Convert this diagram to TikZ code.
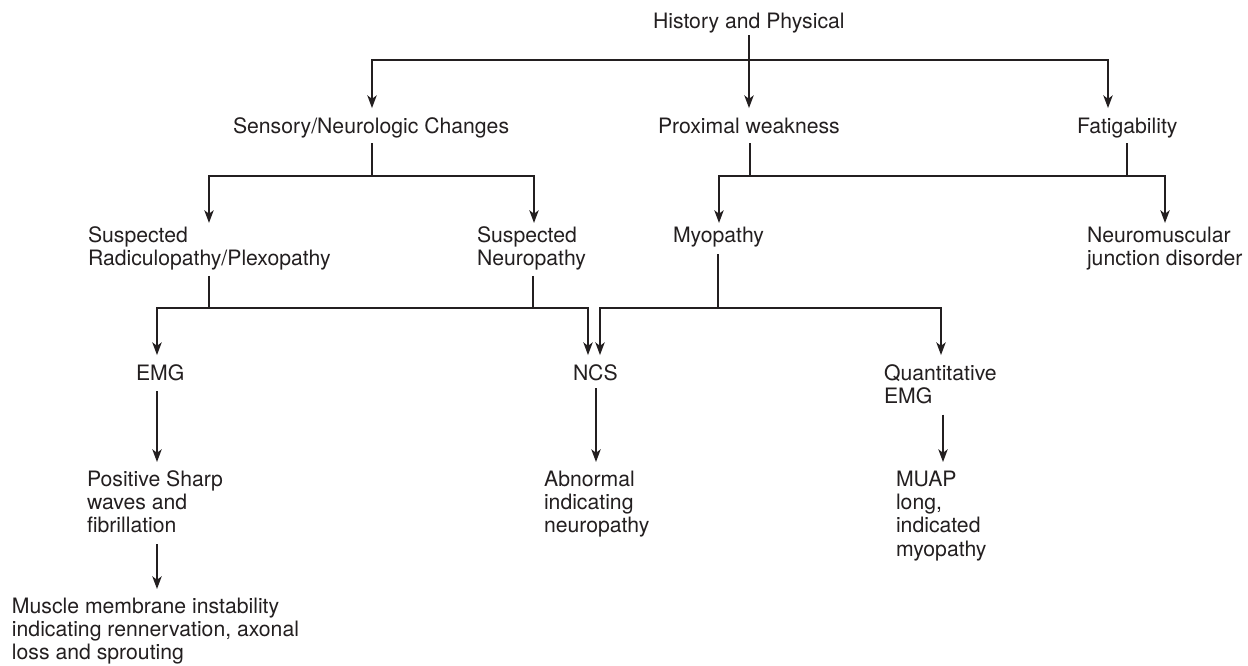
\documentclass[tikz,border=0pt]{standalone}
\usepackage{fontspec}
\setmainfont{TeX Gyre Heros}
\usetikzlibrary{arrows.meta}
\definecolor{ink}{HTML}{231F20}
\begin{document}
\begin{tikzpicture}[x=0.75pt,y=-0.75pt,
  lbl/.style={anchor=north west, inner sep=0pt, outer sep=0pt, align=left,
    text=ink, font=\fontsize{15.9}{17.6}\selectfont},
  ln/.style={draw=ink, line width=1.4pt},
  arr/.style={ln, -{Stealth[length=9.5pt,width=7pt,inset=2.6pt]}, shorten >=#1},
  arr/.default=6.4pt,
  stem/.style={ln, shorten <=#1},
  stem/.default=2.5pt]

\fill[white] (0,0) rectangle (1248,665);
\useasboundingbox (0,0) rectangle (1248,665);

% labels (north west corner = first baseline minus strut height)
\node[lbl] (hp)    at (653,11.6)   {\strut History and Physical};
\node[lbl] (sens)  at (233,116.6)  {\strut Sensory/Neurologic Changes};
\node[lbl] (prox)  at (658,116.6)  {\strut Proximal weakness};
\node[lbl] (fat)   at (1077,116.6) {\strut Fatigability};
\node[lbl] (radic) at (88,225.6)   {\strut Suspected\\Radiculopathy/Plexopathy\strut};
\node[lbl] (neur)  at (477,225.6)  {\strut Suspected\\Neuropathy\strut};
\node[lbl] (myo)   at (673,225.6)  {\strut Myopathy};
\node[lbl] (nmj)   at (1087,225.6) {\strut Neuromuscular\\junction disorder\strut};
\node[lbl] (emg)   at (136,363.6)  {\strut EMG};
\node[lbl] (ncs)   at (573,363.6)  {\strut NCS};
\node[lbl] (qemg)  at (884,363.6)  {\strut Quantitative\\EMG\strut};
\node[lbl] (pos)   at (87,469.6)   {\strut Positive Sharp\\waves and\\fibrillation\strut};
\node[lbl] (abn)   at (544,469.6)  {\strut Abnormal\\indicating\\neuropathy\strut};
\node[lbl] (muap)  at (896,469.6)  {\strut MUAP\\long,\\indicated\\myopathy\strut};
\node[lbl] (mus)   at (12,596.6)   {\strut Muscle membrane instability\\indicating rennervation, axonal\\loss and sprouting\strut};

% history and physical -> three presentations
\coordinate (jTop) at (749,60);
\draw[stem=0pt] (hp.south -| jTop) -- (jTop);
\draw[arr] (jTop) -| (sens.north -| 372,0);
\draw[arr] (jTop) -- (jTop |- prox.north);
\draw[arr] (jTop) -| (fat.north -| 1108,0);

% sensory/neurologic changes
\coordinate (jSens) at (372,176);
\draw[stem] (sens.south -| jSens) -- (jSens);
\draw[arr=2pt] (jSens) -| (radic.north -| 209,0);
\draw[arr=2pt] (jSens) -| (neur.north -| 534,0);

% proximal weakness and fatigability
\coordinate (jProx) at (750,176);
\coordinate (jFat) at (1127,176);
\draw[stem] (prox.south -| jProx) -- (jProx);
\draw[stem] (fat.south -| jFat) -- (jFat);
\draw[arr=2pt] (jProx) -| (myo.north -| 719,0);
\draw[arr=2pt] (jProx) -| (nmj.north -| 1165,0);

% radiculopathy / neuropathy -> EMG, NCS
\coordinate (jRad) at (209,308);
\coordinate (jNeu) at (533,308);
\draw[stem] (radic.south -| jRad) -- (jRad);
\draw[stem] (neur.south -| jNeu) -- (jNeu);
\draw[arr] (jRad) -| (emg.north -| 157,0);
\draw[arr] (jRad) -| (ncs.north -| 588,0);

% myopathy -> NCS, quantitative EMG
\coordinate (jMyo) at (718,308);
\draw[stem=3.7pt] (myo.south -| jMyo) -- (jMyo);
\draw[arr] (jMyo) -| (ncs.north -| 600,0);
\draw[arr] (jMyo) -| (qemg.north -| 941,0);

% findings
\draw[arr=5.7pt, shorten <=3pt] (emg.south -| 157,0) -- (pos.north -| 157,0);
\draw[arr=5.7pt, shorten <=1pt] (ncs.south -| 596,0) -- (abn.north -| 596,0);
\draw[arr=5.7pt, shorten <=3pt] (qemg.south -| 943,0) -- (muap.north -| 943,0);
\draw[arr=5.7pt, shorten <=3pt] (pos.south -| 157,0) -- (mus.north -| 157,0);
\end{tikzpicture}
\end{document}
